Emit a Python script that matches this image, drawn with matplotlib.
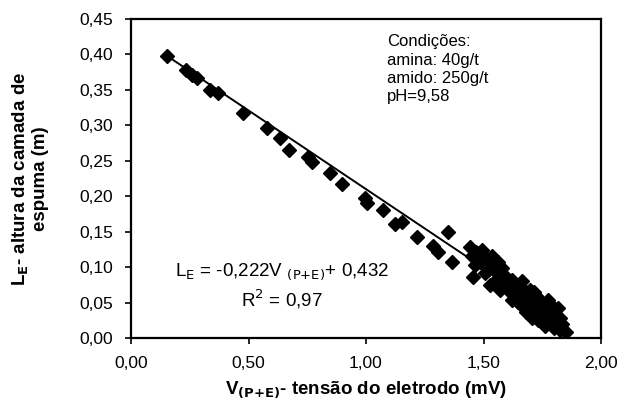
import matplotlib
matplotlib.use("Agg")
import matplotlib.pyplot as plt
import numpy as np

plt.rcParams["font.family"] = ["Liberation Sans", "DejaVu Sans"]

# electrode voltage (mV) and froth height (m)
tensao = [0.153, 0.234, 0.260, 0.281, 0.336, 0.370, 0.477, 0.579, 0.634, 0.672,
          0.753, 0.770, 0.847, 0.898, 0.996, 1.004, 1.072, 1.123, 1.153, 1.217,
          1.285, 1.306, 1.349, 1.366, 1.455,
          1.443, 1.468, 1.494, 1.511, 1.485, 1.528, 1.545, 1.562, 1.579, 1.528,
          1.553, 1.591, 1.604, 1.621, 1.638, 1.655, 1.647, 1.672, 1.689, 1.698,
          1.715, 1.723, 1.740, 1.740, 1.757, 1.774, 1.783, 1.791, 1.809, 1.817,
          1.826, 1.834, 1.851, 1.762, 1.681, 1.621, 1.570, 1.506, 1.464, 1.732,
          1.800, 1.774, 1.706,
          1.477, 1.536, 1.519, 1.596, 1.630, 1.664, 1.698, 1.723, 1.766, 1.791,
          1.826, 1.664, 1.715, 1.570, 1.451]
altura = [0.398, 0.378, 0.371, 0.367, 0.350, 0.346, 0.317, 0.296, 0.282, 0.265,
          0.255, 0.248, 0.233, 0.217, 0.197, 0.190, 0.181, 0.161, 0.164, 0.142,
          0.130, 0.121, 0.150, 0.107, 0.086,
          0.128, 0.121, 0.124, 0.113, 0.107, 0.107, 0.096, 0.107, 0.099, 0.075,
          0.082, 0.087, 0.068, 0.082, 0.073, 0.061, 0.051, 0.068, 0.056, 0.039,
          0.065, 0.048, 0.054, 0.031, 0.039, 0.054, 0.023, 0.037, 0.028, 0.042,
          0.011, 0.020, 0.008, 0.017, 0.037, 0.054, 0.068, 0.092, 0.103, 0.025,
          0.014, 0.031, 0.028,
          0.113, 0.116, 0.096, 0.079, 0.065, 0.080, 0.068, 0.059, 0.028, 0.045,
          0.028, 0.045, 0.034, 0.087, 0.116]

# linear fit reported in the figure
coef_a = -0.222
coef_b = 0.432
fit_range = [0.15, 1.85]

x_ticks = [0.0, 0.5, 1.0, 1.5, 2.0]
y_ticks = [0.0, 0.05, 0.10, 0.15, 0.20, 0.25, 0.30, 0.35, 0.40, 0.45]

fig = plt.figure(figsize=(6.25, 4.07), dpi=100)
ax = fig.add_axes([0.2096, 0.1695, 0.752, 0.7838])

xf = np.array(fit_range)
ax.plot(xf, coef_a * xf + coef_b, color="black", linewidth=1.4, zorder=2)
ax.plot(tensao, altura, linestyle="none", marker="D", markersize=7,
        color="black", zorder=3)

ax.set_xlim(0, 2.0)
ax.set_ylim(0, 0.45)
ax.set_xticks(x_ticks)
ax.set_yticks(y_ticks)
ax.set_xticklabels([f"{v:.2f}".replace(".", ",") for v in x_ticks], fontsize=12.5)
ax.set_yticklabels([f"{v:.2f}".replace(".", ",") for v in y_ticks], fontsize=12.5)
ax.tick_params(direction="out", length=4, width=1.2)
ax.tick_params(axis="x", pad=9)
ax.tick_params(axis="y", pad=9)
for s in ax.spines.values():
    s.set_linewidth(1.6)

ax.set_xlabel(r"V$_{\mathbf{(P{+}E)}}$- tensão do eletrodo (mV)", fontsize=13.5,
              fontweight="bold", labelpad=6)
ax.set_ylabel("L$_{\\mathbf{E}}$- altura da camada de\nespuma (m)", fontsize=13.5,
              fontweight="bold", labelpad=22, linespacing=1.05)

ax.text(0.545, 0.952, "Condições:\namina: 40g/t\namido: 250g/t\npH=9,58",
        transform=ax.transAxes, fontsize=12, va="top", ha="left", linespacing=1.27)

ax.text(0.321, 0.207, r"L$_\mathrm{E}$ = -0,222V $_{\mathrm{(P{+}E)}}$+ 0,432",
        transform=ax.transAxes, fontsize=13.5, ha="center", va="center")
ax.text(0.321, 0.122, r"R$^2$ = 0,97", transform=ax.transAxes, fontsize=13.5,
        ha="center", va="center")

fig.savefig("out.png", dpi=100)
